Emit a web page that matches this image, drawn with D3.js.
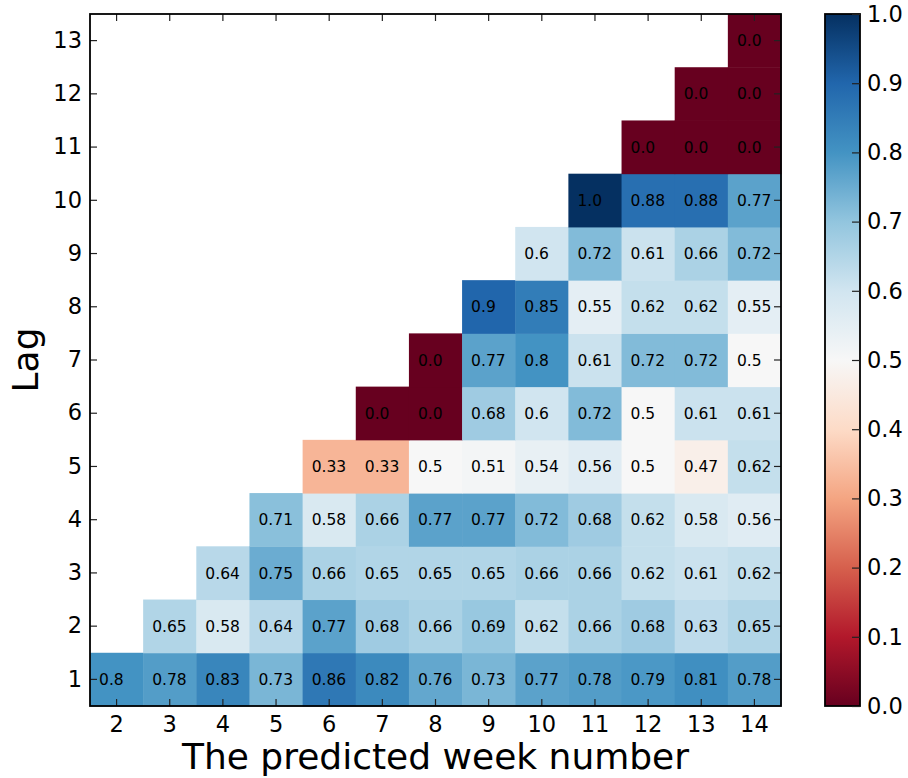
<!DOCTYPE html>
<html>
<head>
<meta charset="utf-8">
<script src="https://cdn.jsdelivr.net/npm/d3@7"></script>
<style>
  body { margin: 0; background: white; }
  svg { display: block; font-family: "DejaVu Sans", sans-serif; }
</style>
</head>
<body>
<div id="chart"></div>
<script>
// weeks on x, lags on y
var weeks = [2, 3, 4, 5, 6, 7, 8, 9, 10, 11, 12, 13, 14];
var lags = [1, 2, 3, 4, 5, 6, 7, 8, 9, 10, 11, 12, 13];
// one row per lag, values start at week lag+1
var lag1 = [0.8, 0.78, 0.83, 0.73, 0.86, 0.82, 0.76, 0.73, 0.77, 0.78, 0.79, 0.81, 0.78];
var lag2 = [0.65, 0.58, 0.64, 0.77, 0.68, 0.66, 0.69, 0.62, 0.66, 0.68, 0.63, 0.65];
var lag3 = [0.64, 0.75, 0.66, 0.65, 0.65, 0.65, 0.66, 0.66, 0.62, 0.61, 0.62];
var lag4 = [0.71, 0.58, 0.66, 0.77, 0.77, 0.72, 0.68, 0.62, 0.58, 0.56];
var lag5 = [0.33, 0.33, 0.5, 0.51, 0.54, 0.56, 0.5, 0.47, 0.62];
var lag6 = [0.0, 0.0, 0.68, 0.6, 0.72, 0.5, 0.61, 0.61];
var lag7 = [0.0, 0.77, 0.8, 0.61, 0.72, 0.72, 0.5];
var lag8 = [0.9, 0.85, 0.55, 0.62, 0.62, 0.55];
var lag9 = [0.6, 0.72, 0.61, 0.66, 0.72];
var lag10 = [1.0, 0.88, 0.88, 0.77];
var lag11 = [0.0, 0.0, 0.0];
var lag12 = [0.0, 0.0];
var lag13 = [0.0];
var rows = [lag1, lag2, lag3, lag4, lag5, lag6, lag7, lag8, lag9, lag10, lag11, lag12, lag13];
var cbTicks = [0.0, 0.1, 0.2, 0.3, 0.4, 0.5, 0.6, 0.7, 0.8, 0.9, 1.0];
// matplotlib RdBu stops
var rdbu = ["#67001f", "#b2182b", "#d6604d", "#f4a582", "#fddbc7", "#f7f7f7",
            "#d1e5f0", "#92c5de", "#4393c3", "#2166ac", "#053061"];

var cells = [];
rows.forEach(function(r, i){
  r.forEach(function(v, j){
    cells.push({lag: lags[i], week: lags[i] + 1 + j, value: v});
  });
});

var W = 908, H = 778;
var pLeft = 90, pRight = 781, pTop = 14, pBottom = 706;
var tickFont = 22.5;

var svg = d3.select("#chart").append("svg")
            .attr("width", W)
            .attr("height", H);

var x = d3.scaleBand().domain(weeks).range([pLeft, pRight]);
var y = d3.scaleBand().domain(lags).range([pBottom, pTop]);
var color = d3.scaleLinear()
              .domain(d3.range(rdbu.length).map(function(i){ return i / (rdbu.length - 1); }))
              .range(rdbu);

//cells
svg.append("g").attr("id", "cellGroup")
   .selectAll("rect").data(cells).enter().append("rect")
   .attr("x", function(d){ return x(d.week); })
   .attr("y", function(d){ return y(d.lag); })
   .attr("width", x.bandwidth() + 0.5)
   .attr("height", y.bandwidth() + 0.5)
   .attr("fill", function(d){ return color(d.value); });

//cell labels
svg.append("g").attr("id", "labelGroup")
   .selectAll("text").data(cells).enter().append("text")
   .attr("x", function(d){ return x(d.week) + x.bandwidth() * 0.17; })
   .attr("y", function(d){ return y(d.lag) + y.bandwidth() / 2; })
   .attr("dy", "0.36em")
   .attr("font-size", 15.5)
   .attr("fill", "black")
   .text(function(d){ return d.value === 0 || d.value === 1 ? d.value.toFixed(1) : String(d.value); });

//axes, ticks inside on all sides
var tickLen = 7;
var axisG = svg.append("g").attr("id", "axisGroup");
var xb = d3.axisBottom(x).tickSize(-tickLen).tickPadding(10);
var xt = d3.axisTop(x).tickSize(-tickLen).tickFormat("");
var yl = d3.axisLeft(y).tickSize(-tickLen).tickPadding(8);
var yr = d3.axisRight(y).tickSize(-tickLen).tickFormat("");
axisG.append("g").attr("transform", "translate(0," + pBottom + ")").call(xb);
axisG.append("g").attr("transform", "translate(0," + pTop + ")").call(xt);
axisG.append("g").attr("transform", "translate(" + pLeft + ",0)").call(yl);
axisG.append("g").attr("transform", "translate(" + pRight + ",0)").call(yr);
axisG.selectAll(".domain").remove();
axisG.selectAll(".tick line").attr("stroke", "#222").attr("stroke-width", 1.2);
axisG.selectAll("g").attr("font-size", tickFont).attr("font-family", "DejaVu Sans");
axisG.selectAll(".tick text").attr("fill", "black").style("font-size", tickFont + "px");
svg.append("rect")
   .attr("x", pLeft).attr("y", pTop)
   .attr("width", pRight - pLeft).attr("height", pBottom - pTop)
   .attr("fill", "none").attr("stroke", "black").attr("stroke-width", 1.8);

//axis titles
svg.append("text")
   .attr("x", (pLeft + pRight) / 2).attr("y", 769)
   .attr("text-anchor", "middle")
   .style("font-size", "36px")
   .text("The predicted week number");
svg.append("text")
   .attr("transform", "translate(38," + (pTop + pBottom) / 2 + ") rotate(-90)")
   .attr("text-anchor", "middle")
   .style("font-size", "36px")
   .text("Lag");

//colorbar
var cbLeft = 825, cbRight = 860;
var cy = d3.scaleLinear().domain([0, 1]).range([pBottom, pTop]);
var grad = svg.append("defs").append("linearGradient")
              .attr("id", "cbGrad")
              .attr("x1", 0).attr("y1", 1).attr("x2", 0).attr("y2", 0);
grad.selectAll("stop").data(rdbu).enter().append("stop")
    .attr("offset", function(d, i){ return i / (rdbu.length - 1); })
    .attr("stop-color", function(d){ return d; });
svg.append("rect")
   .attr("x", cbLeft).attr("y", pTop)
   .attr("width", cbRight - cbLeft).attr("height", pBottom - pTop)
   .attr("fill", "url(#cbGrad)")
   .attr("stroke", "black").attr("stroke-width", 1.8);
var cbAxis = d3.axisRight(cy).tickValues(cbTicks).tickSize(-8).tickPadding(7)
               .tickFormat(d3.format(".1f"));
var cbG = svg.append("g").attr("transform", "translate(" + cbRight + ",0)").call(cbAxis);
cbG.select(".domain").remove();
cbG.attr("font-size", tickFont).attr("font-family", "DejaVu Sans");
cbG.selectAll(".tick line").attr("stroke", "#222").attr("stroke-width", 1.2);
cbG.selectAll(".tick text").attr("fill", "black").style("font-size", tickFont + "px");
</script>
</body>
</html>
